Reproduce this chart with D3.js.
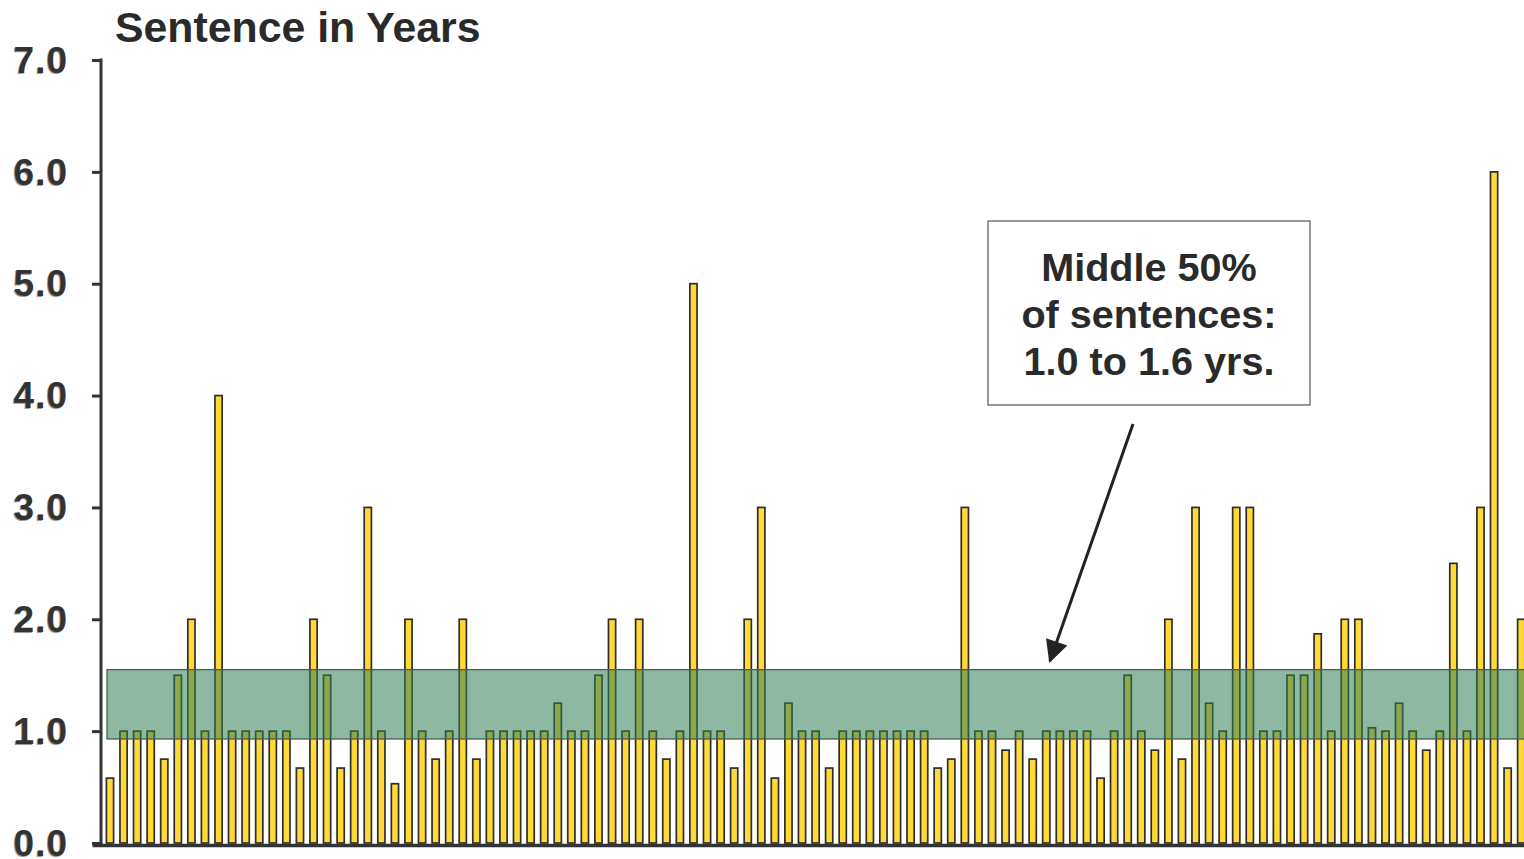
<!DOCTYPE html>
<html>
<head>
<meta charset="utf-8">
<script src="https://cdn.jsdelivr.net/npm/d3@7"></script>
<style>
  html, body { margin: 0; padding: 0; background: #fff; }
  svg { display: block; }
  .ylab { text-shadow: -1px 1px 0 #9a9a9a; }
</style>
</head>
<body>
<svg id="chart" width="1524" height="859"></svg>
<script>
// ---- data ----
const sentences = [
  0.58, 1.0, 1.0, 1.0, 0.75, 1.5, 2.0, 1.0, 4.0, 1.0,
  1.0, 1.0, 1.0, 1.0, 0.67, 2.0, 1.5, 0.67, 1.0, 3.0,
  1.0, 0.53, 2.0, 1.0, 0.75, 1.0, 2.0, 0.75, 1.0, 1.0,
  1.0, 1.0, 1.0, 1.25, 1.0, 1.0, 1.5, 2.0, 1.0, 2.0,
  1.0, 0.75, 1.0, 5.0, 1.0, 1.0, 0.67, 2.0, 3.0, 0.58,
  1.25, 1.0, 1.0, 0.67, 1.0, 1.0, 1.0, 1.0, 1.0, 1.0,
  1.0, 0.67, 0.75, 3.0, 1.0, 1.0, 0.83, 1.0, 0.75, 1.0,
  1.0, 1.0, 1.0, 0.58, 1.0, 1.5, 1.0, 0.83, 2.0, 0.75,
  3.0, 1.25, 1.0, 3.0, 3.0, 1.0, 1.0, 1.5, 1.5, 1.87,
  1.0, 2.0, 2.0, 1.03, 1.0, 1.25, 1.0, 0.83, 1.0, 2.5,
  1.0, 3.0, 6.0, 0.67, 2.0
];
const cases = sentences.map((_, i) => i);
const yTicks = [0, 1, 2, 3, 4, 5, 6, 7];
const middleBand = [0.93, 1.55];
const titleText = "Sentence in Years";
const noteLines = ["Middle 50%", "of sentences:", "1.0 to 1.6 yrs."];

// ---- layout ----
const svg = d3.select("#chart");
const FONT = "'Liberation Sans', Arial, Helvetica, sans-serif";
const axisX = 101, baseY = 843, topY = 60;

const x = d3.scaleBand().domain(cases).range([103.2, 1528]).paddingInner(0.47).paddingOuter(0.235);
const y = d3.scaleLinear().domain([0, 7]).range([baseY, topY]);

// bars
svg.append("g").selectAll("rect").data(sentences).join("rect")
  .attr("x", (d, i) => x(i))
  .attr("y", d => y(d))
  .attr("width", x.bandwidth())
  .attr("height", d => y(0) - y(d))
  .attr("fill", "#ffd935")
  .attr("stroke", "#2e2e2e")
  .attr("stroke-width", 1.7);

// middle 50% band
svg.append("rect")
  .attr("x", 107)
  .attr("y", y(middleBand[1]))
  .attr("width", 1524 - 107 + 2)
  .attr("height", y(middleBand[0]) - y(middleBand[1]))
  .attr("fill", "rgb(48,128,88)")
  .attr("fill-opacity", 0.55)
  .attr("stroke", "#4a5a50")
  .attr("stroke-width", 1.3);

// y axis
const yAxis = d3.axisLeft(y).tickValues(yTicks).tickFormat(d3.format(".1f")).tickSize(9).tickSizeOuter(0).tickPadding(24);
const gy = svg.append("g").attr("transform", `translate(${axisX},0)`).call(yAxis);
gy.select(".domain").attr("stroke", "#333").attr("stroke-width", 3).attr("d", `M0,${topY - 1.5}V${baseY + 3}`);
gy.selectAll(".tick line").attr("stroke", "#333").attr("stroke-width", 3);
gy.selectAll(".tick text")
  .attr("class", "ylab")
  .attr("fill", "#333")
  .attr("font-family", FONT)
  .attr("font-weight", "bold")
  .attr("font-size", 37)
  .attr("letter-spacing", 1)
  .attr("dy", "0.33em");

// x axis (baseline)
const xLine = d3.scaleLinear().domain([0, 1]).range([92, 1524]);
const gx = svg.append("g").attr("transform", `translate(0,${baseY + 2})`)
  .call(d3.axisBottom(xLine).tickValues([]).tickSizeOuter(0));
gx.select(".domain").attr("stroke", "#333").attr("stroke-width", 3.5);

// title
svg.append("text")
  .attr("x", 115).attr("y", 42)
  .attr("font-family", FONT).attr("font-weight", "bold").attr("font-size", 42.8)
  .attr("fill", "#2a2a2a")
  .text(titleText);

// annotation box
const box = { x: 988, y: 221, w: 322, h: 184 };
svg.append("rect")
  .attr("x", box.x).attr("y", box.y).attr("width", box.w).attr("height", box.h)
  .attr("fill", "#fff").attr("stroke", "#555").attr("stroke-width", 1.2);
svg.append("g").selectAll("text").data(noteLines).join("text")
  .attr("x", box.x + box.w / 2)
  .attr("y", (d, i) => 281 + i * 47)
  .attr("text-anchor", "middle")
  .attr("font-family", FONT).attr("font-weight", "bold").attr("font-size", 39.6)
  .attr("fill", "#2a2a2a")
  .text(d => d);

// arrow
const defs = svg.append("defs");
defs.append("marker")
  .attr("id", "arrowhead")
  .attr("viewBox", "0 0 10 10")
  .attr("refX", 9).attr("refY", 5)
  .attr("markerWidth", 8.5).attr("markerHeight", 7.5)
  .attr("markerUnits", "strokeWidth")
  .attr("orient", "auto")
  .append("path").attr("d", "M0,0L10,5L0,10Z").attr("fill", "#222");
svg.append("line")
  .attr("x1", 1133).attr("y1", 424)
  .attr("x2", 1050).attr("y2", 661)
  .attr("stroke", "#222").attr("stroke-width", 3)
  .attr("marker-end", "url(#arrowhead)");
</script>
</body>
</html>
